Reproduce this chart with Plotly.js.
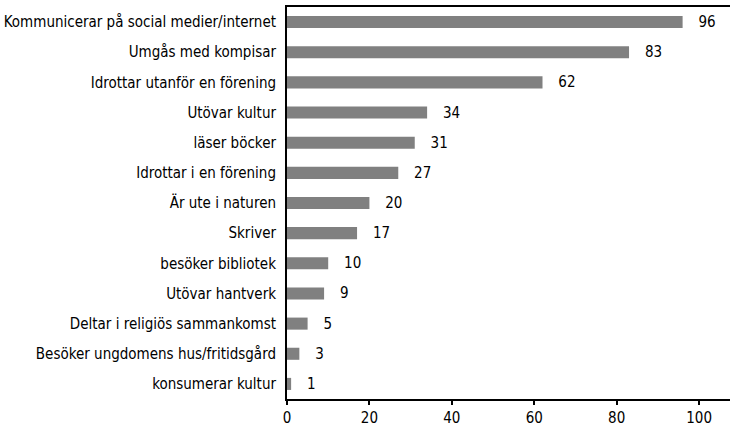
<!DOCTYPE html>
<html>
<head>
<meta charset="utf-8">
<script src="https://cdn.plot.ly/plotly-3.0.1.min.js"></script>
<style>html,body{margin:0;padding:0;background:#fff;}#chart{width:730px;height:430px;}</style>
</head>
<body>
<div id="chart"></div>
<script>
const categories = [
  "Kommunicerar på social medier/internet",
  "Umgås med kompisar",
  "Idrottar utanför en förening",
  "Utövar kultur",
  "läser böcker",
  "Idrottar i en förening",
  "Är ute i naturen",
  "Skriver",
  "besöker bibliotek",
  "Utövar hantverk",
  "Deltar i religiös sammankomst",
  "Besöker ungdomens hus/fritidsgård",
  "konsumerar kultur"
];
const values = [96, 83, 62, 34, 31, 27, 20, 17, 10, 9, 5, 3, 1];
const xTicks = [0, 20, 40, 60, 80, 100];

const FONT = "'Liberation Sans Narrow', 'DejaVu Sans Condensed', 'Arial Narrow', sans-serif";
const pad = "\u00a0\u00a0\u00a0";

const trace = {
  type: "bar",
  orientation: "h",
  y: categories,
  x: values,
  width: 0.4,
  marker: {color: "#808080", line: {width: 0}},
  text: values.map(v => pad + v),
  textposition: "outside",
  constraintext: "none",
  cliponaxis: false,
  textfont: {family: FONT, size: 15, color: "#000"},
  hoverinfo: "skip"
};

const layout = {
  width: 730,
  height: 430,
  margin: {l: 287, r: 0, t: 7, b: 31, pad: 0},
  paper_bgcolor: "#fff",
  plot_bgcolor: "#fff",
  showlegend: false,
  font: {family: FONT, size: 15, color: "#000"},
  xaxis: {
    range: [0, 107.5],
    tickvals: xTicks,
    ticktext: xTicks.map(String),
    ticks: "outside",
    ticklen: 4,
    tickwidth: 2,
    tickcolor: "#000",
    showline: true,
    linecolor: "#000",
    linewidth: 2,
    mirror: true,
    showgrid: false,
    zeroline: false,
    tickfont: {family: FONT, size: 15, color: "#000"}
  },
  yaxis: {
    autorange: "reversed",
    showline: true,
    linecolor: "#000",
    linewidth: 2,
    ticks: "",
    showgrid: false,
    zeroline: false,
    ticklabelstandoff: 6,
    tickfont: {family: FONT, size: 15, color: "#000"}
  }
};

Plotly.newPlot("chart", [trace], layout, {displayModeBar: false, staticPlot: true});
</script>
</body>
</html>
